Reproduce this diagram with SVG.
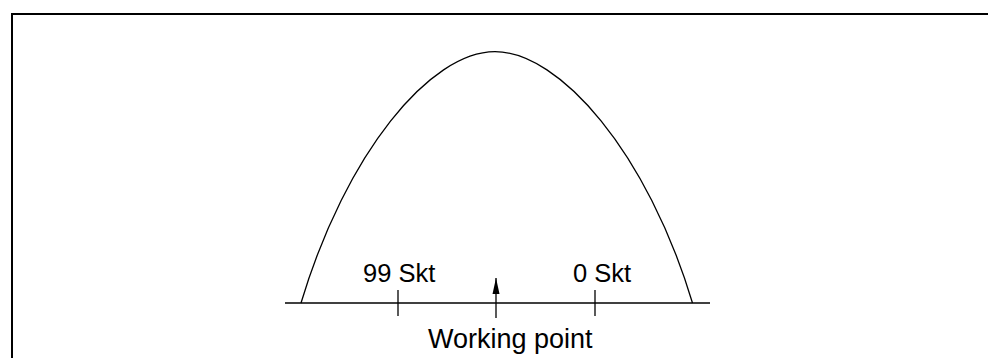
<svg xmlns="http://www.w3.org/2000/svg" width="988" height="358" viewBox="0 0 988 358">
<defs>
<style>
.ln{fill:none;stroke:#000;stroke-width:1.3}
.t{font-family:"Liberation Sans",Arial,sans-serif;fill:#000}
</style>
<marker id="ah" markerWidth="17" markerHeight="8" refX="16" refY="4" orient="auto" markerUnits="userSpaceOnUse" viewBox="0 0 17 8">
<path d="M0,0.5 L16,4 L0,7.5 Z" fill="#000"/>
</marker>
</defs>
<rect width="988" height="358" fill="#fff"/>
<path d="M12,358 V14 H988" fill="none" stroke="#000" stroke-width="2"/>
<g id="curve">
<path class="ln" d="M301,303 C346,153 430,51.7 495,51.7 C560,51.7 647.5,153 692.5,303"/>
</g>
<g id="axis">
<line class="ln" x1="285" y1="303" x2="710" y2="303"/>
</g>
<g id="tick99">
<line class="ln" x1="398" y1="290" x2="398" y2="316"/>
<text class="t" x="363" y="282" font-size="25.5">99 Skt</text>
</g>
<g id="tick0">
<line class="ln" x1="595" y1="290" x2="595" y2="316"/>
<text class="t" x="573" y="282" font-size="25.5">0 Skt</text>
</g>
<g id="connectors">
<line class="ln" x1="496" y1="318" x2="496" y2="278" marker-end="url(#ah)"/>
</g>
<g id="working">
<text class="t" x="428" y="348" font-size="27">Working point</text>
</g>
</svg>
